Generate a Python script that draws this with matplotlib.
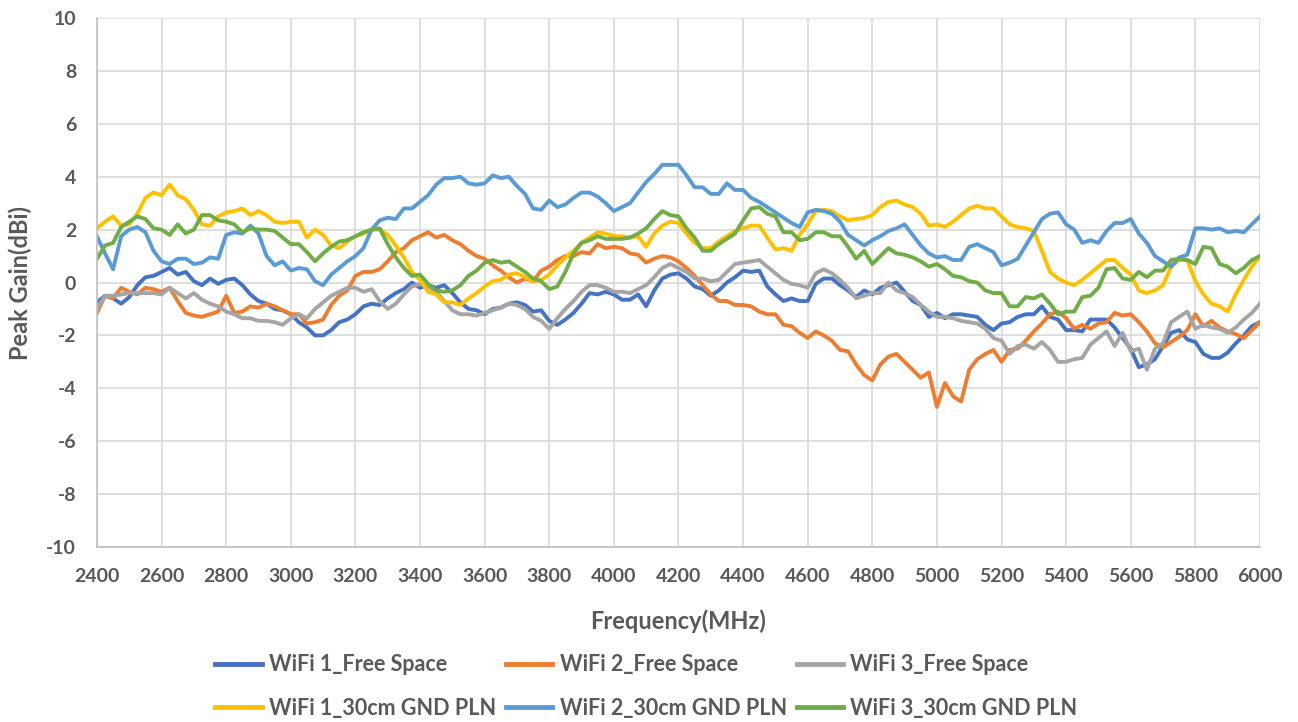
import matplotlib
matplotlib.use("Agg")
import matplotlib.pyplot as plt

# Frequency grid (MHz) and peak gain readings (dBi)
freq_mhz = list(range(2400, 6001, 25))

wifi1_free = [
    -0.75, -0.5, -0.6, -0.8, -0.55, -0.1, 0.2, 0.25,
    0.4, 0.55, 0.3, 0.4, 0.05, -0.1, 0.15, -0.05,
    0.1, 0.15, -0.1, -0.45, -0.7, -0.8, -1.0, -1.05,
    -1.2, -1.5, -1.7, -2.0, -2.0, -1.8, -1.5, -1.4,
    -1.2, -0.9, -0.8, -0.85, -0.6, -0.4, -0.25, 0.0,
    -0.2, -0.1, -0.2, -0.1, -0.4, -0.75, -1.0, -1.05,
    -1.2, -1.0, -0.95, -0.8, -0.75, -0.85, -1.1, -1.05,
    -1.45, -1.6, -1.4, -1.15, -0.8, -0.4, -0.45, -0.35,
    -0.45, -0.65, -0.65, -0.45, -0.9, -0.3, 0.15, 0.3,
    0.35, 0.15, -0.15, -0.25, -0.5, -0.3, 0.0, 0.2,
    0.45, 0.4, 0.45, -0.15, -0.45, -0.7, -0.6, -0.7,
    -0.7, -0.05, 0.15, 0.15, -0.1, -0.3, -0.55, -0.3,
    -0.45, -0.2, -0.1, 0.0, -0.35, -0.7, -0.85, -1.3,
    -1.15, -1.35, -1.2, -1.2, -1.25, -1.3, -1.6, -1.8,
    -1.55, -1.5, -1.3, -1.2, -1.2, -0.9, -1.3, -1.4,
    -1.8, -1.8, -1.85, -1.4, -1.4, -1.4, -1.7, -2.1,
    -2.5, -3.2, -3.1, -2.9, -2.4, -1.9, -1.8, -2.15,
    -2.25, -2.7, -2.85, -2.85, -2.65, -2.3, -2.0, -1.65, -1.5,
]

wifi2_free = [
    -1.15, -0.5, -0.6, -0.2, -0.35, -0.45, -0.2, -0.25,
    -0.35, -0.2, -0.7, -1.15, -1.25, -1.3, -1.2, -1.1,
    -0.5, -1.15, -1.1, -0.9, -0.95, -0.8, -0.9, -1.05,
    -1.2, -1.2, -1.55, -1.5, -1.4, -0.85, -0.5, -0.3,
    0.25, 0.4, 0.4, 0.5, 0.8, 1.15, 1.3, 1.6,
    1.75, 1.9, 1.7, 1.8, 1.6, 1.45, 1.2, 1.0,
    0.9, 0.65, 0.45, 0.2, 0.0, 0.15, 0.05, 0.45,
    0.6, 0.85, 1.0, 1.0, 1.15, 1.1, 1.45, 1.3,
    1.35, 1.3, 1.1, 1.05, 0.75, 0.9, 1.0, 0.95,
    0.8, 0.55, 0.25, -0.1, -0.45, -0.7, -0.7, -0.85,
    -0.85, -0.9, -1.1, -1.2, -1.2, -1.6, -1.65, -1.9,
    -2.1, -1.85, -2.0, -2.2, -2.55, -2.6, -3.1, -3.5,
    -3.7, -3.1, -2.8, -2.7, -3.0, -3.3, -3.6, -3.4,
    -4.7, -3.8, -4.3, -4.5, -3.3, -2.9, -2.7, -2.55,
    -3.0, -2.55, -2.5, -2.2, -1.85, -1.55, -1.2, -1.1,
    -1.35, -1.75, -1.6, -1.75, -1.55, -1.5, -1.15, -1.25,
    -1.2, -1.5, -1.85, -2.3, -2.45, -2.25, -2.05, -1.8,
    -1.2, -1.65, -1.45, -1.7, -1.85, -1.95, -2.1, -1.8, -1.5,
]

wifi3_free = [
    -1.0, -0.5, -0.5, -0.45, -0.4, -0.4, -0.4, -0.4,
    -0.45, -0.2, -0.4, -0.6, -0.4, -0.65, -0.8, -0.9,
    -1.1, -1.2, -1.35, -1.35, -1.45, -1.45, -1.5, -1.6,
    -1.35, -1.2, -1.35, -1.0, -0.75, -0.5, -0.35, -0.2,
    -0.2, -0.35, -0.25, -0.7, -1.0, -0.8, -0.45, -0.15,
    -0.05, -0.15, -0.35, -0.7, -1.05, -1.2, -1.2, -1.25,
    -1.15, -1.05, -0.95, -0.8, -0.85, -1.0, -1.3, -1.45,
    -1.75, -1.35, -1.0, -0.7, -0.35, -0.1, -0.1, -0.2,
    -0.35, -0.35, -0.4, -0.25, -0.1, 0.2, 0.55, 0.7,
    0.55, 0.4, 0.15, 0.15, 0.05, 0.1, 0.4, 0.7,
    0.75, 0.8, 0.85, 0.6, 0.35, 0.1, -0.05, -0.1,
    -0.2, 0.35, 0.5, 0.35, 0.1, -0.2, -0.6, -0.5,
    -0.4, -0.4, 0.0, -0.3, -0.4, -0.55, -0.85, -1.1,
    -1.3, -1.3, -1.35, -1.45, -1.5, -1.55, -1.75, -2.1,
    -2.2, -2.7, -2.4, -2.35, -2.5, -2.25, -2.55, -3.0,
    -3.0, -2.9, -2.85, -2.35, -2.1, -1.85, -2.4, -1.9,
    -2.6, -2.5, -3.3, -2.5, -2.3, -1.5, -1.3, -1.1,
    -1.75, -1.6, -1.7, -1.75, -1.9, -1.7, -1.4, -1.15, -0.8,
]

wifi1_gnd = [
    2.05, 2.3, 2.5, 2.15, 2.2, 2.6, 3.2, 3.4,
    3.3, 3.7, 3.3, 3.15, 2.75, 2.2, 2.15, 2.5,
    2.65, 2.7, 2.8, 2.55, 2.7, 2.55, 2.3, 2.25,
    2.3, 2.3, 1.7, 2.0, 1.8, 1.4, 1.3, 1.55,
    1.75, 1.85, 2.0, 2.0, 1.8, 1.4, 0.95, 0.4,
    0.1, -0.35, -0.45, -0.75, -0.75, -0.85, -0.6, -0.4,
    -0.15, 0.05, 0.1, 0.3, 0.35, 0.2, 0.05, 0.1,
    0.3, 0.65, 0.95, 1.2, 1.5, 1.7, 1.9, 1.85,
    1.75, 1.75, 1.7, 1.75, 1.35, 1.85, 2.15, 2.3,
    2.25, 1.85, 1.5, 1.3, 1.3, 1.55, 1.75, 1.95,
    2.05, 2.15, 2.15, 1.7, 1.25, 1.3, 1.2, 1.8,
    2.2, 2.7, 2.75, 2.7, 2.5, 2.35, 2.4, 2.44,
    2.55, 2.85, 3.05, 3.1, 2.95, 2.85, 2.6, 2.15,
    2.2, 2.1, 2.3, 2.55, 2.8, 2.9, 2.8, 2.8,
    2.5, 2.2, 2.1, 2.05, 1.95, 1.2, 0.4, 0.15,
    0.0, -0.1, 0.1, 0.35, 0.6, 0.85, 0.85, 0.55,
    0.3, -0.3, -0.4, -0.3, -0.1, 0.6, 0.85, 0.85,
    0.05, -0.45, -0.8, -0.9, -1.1, -0.45, 0.1, 0.6, 1.0,
]

wifi2_gnd = [
    1.75, 1.1, 0.5, 1.75, 2.0, 2.1, 1.9, 1.2,
    0.8, 0.7, 0.9, 0.9, 0.7, 0.75, 0.95, 0.9,
    1.8, 1.9, 1.85, 2.15, 1.85, 1.0, 0.65, 0.8,
    0.45, 0.55, 0.5, 0.05, -0.1, 0.3, 0.55, 0.8,
    1.0, 1.3, 2.0, 2.35, 2.45, 2.4, 2.8, 2.8,
    3.05, 3.3, 3.7, 3.95, 3.95, 4.0, 3.75, 3.7,
    3.75, 4.05, 3.95, 4.0, 3.65, 3.35, 2.8, 2.75,
    3.1, 2.85, 2.95, 3.2, 3.4, 3.4, 3.25, 3.0,
    2.7, 2.85, 3.0, 3.4, 3.8, 4.1, 4.45, 4.45,
    4.45, 4.05, 3.6, 3.6, 3.35, 3.35, 3.75, 3.5,
    3.5, 3.2, 3.05, 2.85, 2.65, 2.45, 2.25, 2.1,
    2.65, 2.75, 2.7, 2.6, 2.3, 1.8, 1.6, 1.4,
    1.6, 1.75, 1.95, 2.05, 2.2, 1.8, 1.4, 1.1,
    0.95, 1.0, 0.85, 0.85, 1.35, 1.45, 1.3, 1.15,
    0.65, 0.75, 0.9, 1.4, 1.9, 2.4, 2.6, 2.65,
    2.2, 2.0, 1.5, 1.6, 1.5, 1.95, 2.25, 2.25,
    2.4, 1.85, 1.5, 1.0, 0.8, 0.6, 0.95, 1.05,
    2.05, 2.05, 2.0, 2.05, 1.9, 1.95, 1.9, 2.2, 2.5,
]

wifi3_gnd = [
    0.9, 1.4, 1.5, 2.1, 2.3, 2.5, 2.4, 2.05,
    2.0, 1.8, 2.2, 1.85, 2.0, 2.55, 2.55, 2.35,
    2.3, 2.2, 1.9, 2.05, 2.0, 2.0, 1.95, 1.7,
    1.45, 1.45, 1.15, 0.8, 1.1, 1.35, 1.55, 1.6,
    1.75, 1.9, 2.0, 2.05, 1.45, 0.95, 0.55, 0.25,
    0.3, -0.05, -0.3, -0.35, -0.3, -0.1, 0.25, 0.45,
    0.75, 0.85, 0.75, 0.8, 0.6, 0.4, 0.15, 0.05,
    -0.25, -0.15, 0.4, 1.1, 1.5, 1.6, 1.75, 1.65,
    1.65, 1.65, 1.7, 1.85, 2.05, 2.4, 2.7, 2.55,
    2.5, 2.05, 1.7, 1.2, 1.2, 1.45, 1.65, 1.85,
    2.35, 2.8, 2.85, 2.6, 2.5, 1.9, 1.9, 1.6,
    1.65, 1.9, 1.9, 1.75, 1.75, 1.35, 0.9, 1.2,
    0.7, 1.0, 1.3, 1.1, 1.05, 0.95, 0.8, 0.6,
    0.7, 0.5, 0.25, 0.2, 0.05, 0.0, -0.3, -0.4,
    -0.4, -0.9, -0.9, -0.55, -0.6, -0.45, -0.8, -1.2,
    -1.1, -1.1, -0.55, -0.5, -0.2, 0.5, 0.55, 0.15,
    0.1, 0.4, 0.2, 0.45, 0.45, 0.85, 0.9, 0.85,
    0.7, 1.35, 1.3, 0.7, 0.6, 0.35, 0.55, 0.85, 1.0,
]

series_names = [
    "WiFi 1_Free Space", "WiFi 2_Free Space", "WiFi 3_Free Space",
    "WiFi 1_30cm GND PLN", "WiFi 2_30cm GND PLN", "WiFi 3_30cm GND PLN",
]
series_values = [wifi1_free, wifi2_free, wifi3_free, wifi1_gnd, wifi2_gnd, wifi3_gnd]
series_colors = ["#4472C4", "#ED7D31", "#A5A5A5", "#FFC000", "#5B9BD5", "#70AD47"]

x_ticks = list(range(2400, 6001, 200))
y_ticks = list(range(-10, 11, 2))

plt.rcParams["font.family"] = ["Lato", "DejaVu Sans"]
plt.rcParams["axes.unicode_minus"] = False
text_color = "#595959"

fig = plt.figure(figsize=(12.98, 7.22), dpi=100)
ax = fig.add_axes([0.0747, 0.2424, 0.896, 0.7326])

handles = []
for name, vals, col in zip(series_names, series_values, series_colors):
    h, = ax.plot(freq_mhz, vals, color=col, linewidth=2.8, label=name,
                 solid_joinstyle="round")
    handles.append(h)

ax.set_xlim(2400, 6000)
ax.set_ylim(-10, 10)
ax.set_xticks(x_ticks)
ax.set_yticks(y_ticks)
ax.tick_params(axis="both", length=0, labelsize=14, labelcolor=text_color)
ax.tick_params(axis="x", pad=15)
ax.tick_params(axis="y", pad=15)
for lbl in ax.get_xticklabels() + ax.get_yticklabels():
    lbl.set_fontweight("bold")

ax.grid(True, color="#D9D9D9", linewidth=1.2)
ax.set_axisbelow(True)
for side in ["top", "right"]:
    ax.spines[side].set_visible(False)
for side in ["left", "bottom"]:
    ax.spines[side].set_color("#BFBFBF")
    ax.spines[side].set_linewidth(1.2)

ax.set_xlabel("Frequency(MHz)", fontsize=17, fontweight="bold", color=text_color, labelpad=18)
ax.set_ylabel("Peak Gain(dBi)", fontsize=17, fontweight="bold", color=text_color, labelpad=10)

# legend laid out row by row: free-space row on top, ground-plane row below
order = [0, 3, 1, 4, 2, 5]
leg = fig.legend([handles[i] for i in order], [series_names[i] for i in order],
                 ncol=3, loc="center", bbox_to_anchor=(0.498, 0.049), frameon=False,
                 fontsize=15.5, handlelength=2.15, handletextpad=0.35,
                 columnspacing=0.45, labelspacing=1.05)
for t in leg.get_texts():
    t.set_color(text_color)
    t.set_fontweight("bold")
for line in leg.get_lines():
    line.set_linewidth(3.5)

fig.savefig("out.png", dpi=100)
